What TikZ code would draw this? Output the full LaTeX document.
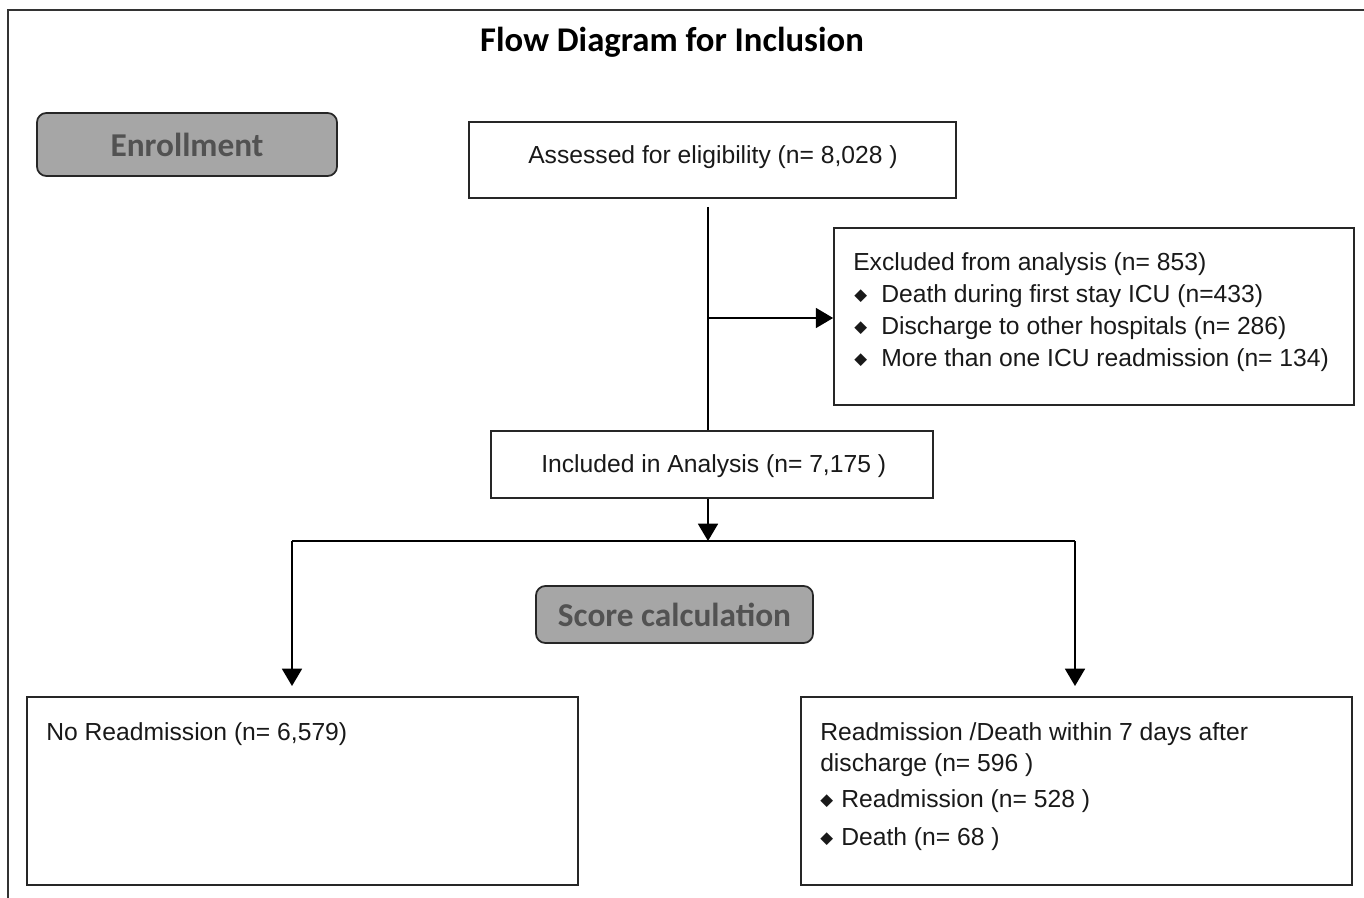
\documentclass[tikz,border=0pt]{standalone}
\usepackage{fontspec}
\setmainfont{Liberation Sans}
\newfontfamily\carlito{Carlito}
\newfontfamily\dejavu{DejaVu Sans}
\usetikzlibrary{arrows.meta,fit}
\newcommand{\dmd}{\raisebox{1.5pt}{\dejavu\fontsize{12.5}{12.5}\selectfont ◆}}
\tikzset{
  box/.style={draw=black!85, line width=1.3pt, inner sep=0pt},
  graybox/.style={draw=black!85, line width=1.3pt, inner sep=0pt, rounded corners=7pt, fill=black!35},
  graylbl/.style={font=\carlito\bfseries\fontsize{25}{30}\selectfont, text=black!68, inner sep=0pt},
  txt/.style={font=\fontsize{18.5}{24}\selectfont, inner sep=0pt, anchor=base west, text=black!90},
  conn/.style={line width=1.4pt, black},
  arr/.style={conn, -{Triangle[width=15pt,length=13pt]}},
}
\begin{document}
\begin{tikzpicture}[x=0.75pt,y=-0.75pt]
\useasboundingbox (0,0) rectangle (1364,898);
% frame
\draw[line width=1.4pt, black!80] (8,898) -- (8,10) -- (1364,10);
% title
\node[font=\carlito\bfseries\fontsize{26}{30}\selectfont, inner sep=0pt] (title) at (672,42) {Flow Diagram for Inclusion};
% gray labels
\node[graybox, fit={(37,113) (337,176)}] (enr) {};
\node[graylbl] (enrl) at (enr.center) {Enrollment};
\node[graybox, fit={(536,586) (813,643)}] (score) {};
\node[graylbl] (scorel) at (score.center) {Score calculation};
% boxes
\node[box, fit={(469,122) (956,198)}] (assess) {};
\node[box, fit={(834,228) (1354,405)}] (excl) {};
\node[box, fit={(491,431) (933,498)}] (incl) {};
\node[box, fit={(27,697) (578,885)}] (noread) {};
\node[box, fit={(801,697) (1352,885)}] (read) {};
% texts
\node[txt] (t1) at (528,164) {Assessed for eligibility (n= 8,028 )};
\node[txt] (t2) at (853,271) {Excluded from analysis (n= 853)};
\node[txt] (b1) at (854,303) {\dmd};
\node[txt] (t3) at (881,303) {Death during first stay ICU (n=433)};
\node[txt] (b2) at (854,335) {\dmd};
\node[txt] (t4) at (881,335) {Discharge to other hospitals (n= 286)};
\node[txt] (b3) at (854,367) {\dmd};
\node[txt] (t5) at (881,367) {More than one ICU readmission (n= 134)};
\node[txt] (t6) at (541,473) {Included in Analysis (n= 7,175 )};
\node[txt] (t7) at (46,740) {No Readmission (n= 6,579)};
\node[txt] (t8) at (820,740) {Readmission /Death within 7 days after};
\node[txt] (t9) at (820,771) {discharge (n= 596 )};
\node[txt] (b4) at (820,807) {\dmd};
\node[txt] (t10) at (841,807) {Readmission (n= 528 )};
\node[txt] (b5) at (820,845) {\dmd};
\node[txt] (t11) at (841,845) {Death (n= 68 )};
% connectors
\coordinate (v0) at (708,207);
\coordinate (vb) at (708,318);
\coordinate (split) at (708,541);
\coordinate (sl) at (292,541);
\coordinate (sr) at (1075,541);
\coordinate (al) at (292,686);
\coordinate (ar) at (1075,686);
\draw[conn] (v0) -- (v0 |- incl.north);
\draw[arr] (vb) -- (vb -| excl.west);
\draw[arr] (incl.south -| split) -- (split);
\draw[conn] (sl) -- (sr);
\draw[arr] (sl) -- (al);
\draw[arr] (sr) -- (ar);
\end{tikzpicture}
\end{document}
